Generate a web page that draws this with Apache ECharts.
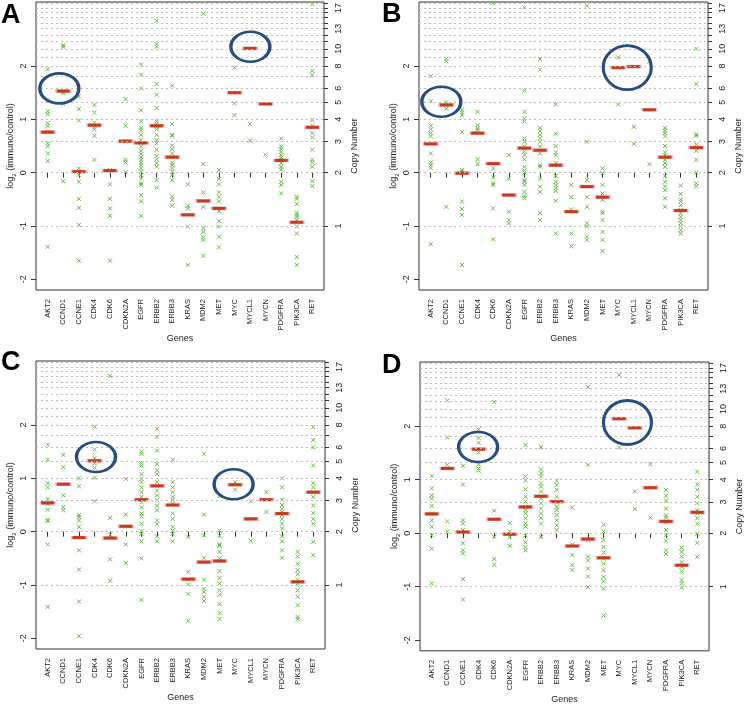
<!DOCTYPE html>
<html><head><meta charset="utf-8">
<script src="https://cdn.jsdelivr.net/npm/echarts@6/dist/echarts.min.js"></script>
<style>html,body{margin:0;padding:0;background:#fff}#c{width:747px;height:705px}</style>
</head><body><div id="c"></div>
<script>
const genes = ["AKT2","CCND1","CCNE1","CDK4","CDK6","CDKN2A","EGFR","ERBB2","ERBB3","KRAS","MDM2","MET","MYC","MYCL1","MYCN","PDGFRA","PIK3CA","RET"];
const panelLetters = ["A","B","C","D"];
const log2Ticks = [-2,-1,0,1,2];
const cnLines = [1,2,3,4,5,6,7,8,9,10,11,12,13,14,15,16,17,18];
const cnLabels = [1,2,3,4,5,6,8,10,13,17];

const ptsA = [
 [1.94,1.36,1.15,1.10,0.93,0.88,0.77,0.55,0.50,0.36,0.22,-1.39],
 [2.39,2.36,1.52,1.49,1.29,-0.16],
 [1.43,1.19,0.98,0.08,-0.04,-0.17,-0.49,-0.66,-0.98,-1.65],
 [1.27,1.13,0.94,0.85,0.81,0.69,0.24],
 [0.05,-0.22,-0.49,-0.67,-0.81,-1.65],
 [1.38,0.88,0.59,0.24,0.19,0.01],
 [2.03,1.84,1.58,1.17,0.96,0.84,0.79,0.71,0.61,0.56,0.49,0.41,0.35,0.29,0.24,0.19,0.14,0.08,0.02,-0.04,-0.11,-0.2,-0.23,-0.42,-0.54,-0.81],
 [2.85,2.41,2.36,1.66,1.46,1.21,0.96,0.91,0.86,0.81,0.71,0.61,0.55,0.43,0.31,0.25,0.18,0.11,-0.14,-0.28],
 [1.63,0.91,0.71,0.69,0.51,0.44,0.36,0.29,0.19,0.14,0.08,0.02,-0.04,-0.14,-0.45,-0.51,-0.62],
 [-0.22,-0.62,-0.67,-1.01,-1.73],
 [2.98,0.16,-0.37,-0.64,-1.04,-1.11,-1.21,-1.26,-1.56],
 [0.05,-0.12,-0.22,-0.37,-0.45,-0.54,-0.72,-0.91,-1.01,-1.2,-1.4],
 [1.97,1.3,1.08],
 [0.91,0.6],
 [2.18,0.34],
 [0.64,0.49,0.44,0.39,0.33,0.28,0.24,0.18,0.11,0.06,-0.17,-0.23,-0.39],
 [-0.45,-0.49,-0.59,-0.75,-0.79,-0.83,-0.89,-1.01,-1.14,-1.58,-1.73],
 [3.16,1.91,1.83,0.99,0.88,0.74,0.66,0.43,0.24,0.19,0.11,-0.16,-0.25]
];
const medA = [0.76,1.53,0.02,0.89,0.04,0.59,0.56,0.88,0.29,-0.79,-0.53,-0.67,1.5,2.33,1.29,0.23,-0.93,0.85];
const ringsA = [[1.75,1.58,1],[14.02,2.36,1]];

const ptsB = [
 [1.81,1.34,0.88,0.81,0.74,0.68,0.36,0.19,0.14,0.09,-1.34],
 [2.14,2.09,1.32,1.2,-0.64],
 [1.18,1.13,1.08,0.76,0.05,0.02,-0.54,-0.68,-0.79,-1.73],
 [1.14,0.89,0.83,0.8,0.25,0.16],
 [3.18,0.08,-0.09,-0.2,-0.23,-0.67,-1.25],
 [0.33,-0.11,-0.73,-0.89,-0.95],
 [3.1,1.54,1.14,1.02,0.96,0.64,0.58,0.49,0.39,0.33,0.25,0.11,0.04,0.0,-0.14,-0.17,-0.23,-0.36,-0.44,-0.48],
 [2.13,1.93,0.84,0.78,0.71,0.64,0.58,0.49,0.36,0.14,0.11,-0.11,-0.26,-0.36,-0.76,-0.89],
 [1.28,0.73,0.5,0.38,0.33,0.18,-0.06,-0.17,-0.23,-0.29,-0.34,-0.53,-1.14],
 [-0.23,-0.46,-0.69,-1.14,-1.38],
 [3.13,0.58,-0.14,-0.46,-0.64,-0.95,-1.01,-1.2,-1.26],
 [0.08,-0.01,-0.23,-0.39,-0.51,-0.73,-0.76,-0.89,-1.11,-1.26,-1.47],
 [2.16,1.28],
 [0.86,0.54],
 [2.08,0.16],
 [0.84,0.79,0.74,0.68,0.5,0.38,0.33,0.24,0.18,0.11,-0.06,-0.17,-0.26,-0.33,-0.48,-0.64],
 [-0.24,-0.4,-0.5,-0.54,-0.61,-0.7,-0.76,-0.83,-0.89,-0.95,-1.01,-1.08,-1.14],
 [2.32,1.66,0.72,0.69,0.53,0.41,0.24,0.0,-0.2,-0.26]
];
const medB = [0.54,1.27,-0.01,0.74,0.17,-0.42,0.46,0.42,0.14,-0.73,-0.26,-0.46,1.97,1.99,1.18,0.29,-0.71,0.47];
const ringsB = [[1.68,1.33,1],[13.58,1.97,2]];

const ptsC = [
 [1.63,1.35,0.91,0.83,0.61,0.52,0.41,0.22,0.2,-0.24,-1.41],
 [1.44,1.21,0.68,0.46,0.4],
 [1.0,0.85,0.31,0.27,0.21,0.09,-0.35,-0.71,-1.31,-1.96],
 [1.97,1.54,1.38,1.28,1.2,1.01,0.57],
 [2.92,0.26,-0.06,-0.52,-0.92],
 [0.99,0.32,-0.24,-0.59],
 [1.5,1.46,1.28,1.24,1.08,0.99,0.93,0.83,0.74,0.65,0.55,0.46,0.34,0.29,0.15,0.01,-0.04,-0.18,-0.5,-1.28],
 [1.93,1.78,1.52,1.27,1.15,1.08,0.93,0.77,0.68,0.59,0.49,0.4,0.21,0.14,-0.09,-0.18],
 [1.35,0.93,0.83,0.74,0.65,0.59,0.52,0.34,0.24,0.09,0.02,-0.04,-0.18],
 [-0.1,-0.75,-0.99,-1.17,-1.67],
 [1.46,0.32,-0.07,-0.49,-0.9,-1.07,-1.13,-1.22,-1.3],
 [0.67,0.02,-0.08,-0.24,-0.26,-0.38,-0.5,-0.55,-0.74,-0.87,-0.97,-1.1,-1.18,-1.36,-1.53,-1.64],
 [0.93,0.79],
 [0.57,-0.17],
 [0.74,0.37],
 [1.0,0.83,0.6,0.5,0.43,0.37,0.31,0.24,0.15,0.06,-0.09,-0.18,-0.35,-0.49],
 [-0.38,-0.47,-0.6,-0.72,-0.8,-0.9,-0.97,-1.1,-1.22,-1.38,-1.6,-1.64],
 [1.96,1.72,1.58,1.24,0.91,0.83,0.74,0.65,0.49,0.35,0.24,0.15,-0.19,-0.44]
];
const medC = [0.54,0.89,-0.11,1.33,-0.12,0.1,0.6,0.86,0.5,-0.89,-0.57,-0.55,0.88,0.24,0.6,0.34,-0.94,0.74];
const ringsC = [[4.09,1.4,1],[12.9,0.89,1]];

const ptsD = [
 [1.07,0.84,0.71,0.65,0.51,0.37,0.24,0.12,-0.04,-0.29,-0.94],
 [2.48,1.79,1.28,0.22,0.03],
 [1.26,0.91,0.24,0.18,0.06,-0.19,-0.32,-0.38,-0.86,-1.24],
 [1.94,1.78,1.69,1.51,1.28,1.21,1.17],
 [2.45,0.42,-0.07,-0.48,-0.59],
 [0.19,0.03,-0.08,-0.24],
 [1.65,1.06,0.99,0.82,0.68,0.59,0.49,0.43,0.37,0.28,0.18,0.12,-0.04,-0.17,-0.26,-0.32],
 [1.61,1.19,1.12,1.06,0.93,0.87,0.78,0.65,0.56,0.46,0.37,0.28,0.18,-0.07],
 [0.98,0.9,0.81,0.68,0.57,0.49,0.43,0.34,0.24,0.15,0.06],
 [0.48,-0.21,-0.41,-0.6,-0.69],
 [2.73,1.28,-0.13,-0.44,-0.51,-0.66,-0.81,-1.01],
 [0.16,0.03,-0.13,-0.26,-0.36,-0.48,-0.57,-0.69,-0.82,-0.9,-1.04,-1.54],
 [2.96,1.6],
 [0.78,0.45],
 [1.29,0.29],
 [0.81,0.7,0.61,0.46,0.33,0.29,0.2,0.06,-0.04,-0.14,-0.32,-0.39],
 [-0.27,-0.35,-0.44,-0.54,-0.63,-0.72,-0.88,-0.94,-1.02],
 [1.15,0.91,0.81,0.68,0.56,0.43,0.37,0.28,0.18,-0.01,-0.18,-0.44]
];
const medD = [0.36,1.21,0.02,1.57,0.26,-0.02,0.49,0.69,0.59,-0.24,-0.11,-0.46,2.14,1.97,0.85,0.22,-0.6,0.39];
const ringsD = [[3.97,1.61,1],[13.53,2.07,2]];

// ---- layout / style (not data) ----
const boxes = [
  {left:36, top:2, width:288, height:288},
  {left:419, top:2, width:289, height:288},
  {left:36, top:361, width:289, height:288},
  {left:420, top:362, width:289, height:289}
];
const letterPos = [{left:1,top:2},{left:382,top:1},{left:1,top:349},{left:382,top:352}];
const panels = [
  {pts:ptsA, med:medA, rings:ringsA},
  {pts:ptsB, med:medB, rings:ringsB},
  {pts:ptsC, med:medC, rings:ringsC},
  {pts:ptsD, med:medD, rings:ringsD}
];
const FONT = "Liberation Sans, Arial, Helvetica, sans-serif";
const YMIN = -2.2, YMAX = 3.2, XMIN = 0.25, XMAX = 18.75;
const toLog = n => Math.log2(n/2);
const GREEN = '#62bb45', RED = '#c9381f', BLUE = '#264c80';
const crossPath = 'path://M0,0L10,10M10,0L0,10';

const option = {
  animation:false,
  backgroundColor:'#fff',
  title: panelLetters.map((t,i)=>({text:t, left:letterPos[i].left, top:letterPos[i].top, padding:0,
    textStyle:{fontSize:27, fontWeight:'bold', color:'#000', fontFamily:FONT}})),
  grid: boxes.map(b=>({left:b.left, top:b.top, width:b.width, height:b.height, show:true,
    borderColor:'#333', borderWidth:1, backgroundColor:'transparent', containLabel:false})),
  xAxis: [], yAxis: [], series: []
};

const posList = genes.map((g,i)=>i+1);

panels.forEach((p,pi)=>{
  option.xAxis.push({
    gridIndex:pi, type:'value', min:XMIN, max:XMAX,
    name:'Genes', nameLocation:'middle', nameGap:44,
    nameTextStyle:{fontSize:9, fontFamily:FONT, color:'#222'},
    axisLine:{show:false},
    axisTick:{show:true, inside:false, length:5, customValues:posList, lineStyle:{color:'#333'}},
    axisLabel:{show:true, customValues:posList, rotate:90, margin:9, fontSize:7.5, fontFamily:FONT, color:'#222',
      formatter:v=>genes[Math.round(v)-1]},
    splitLine:{show:false}
  });
  option.yAxis.push({
    gridIndex:pi, type:'value', position:'left', min:YMIN, max:YMAX,
    name:'{a|log}{s|2}{a| (immuno/control)}', nameLocation:'middle', nameGap:19,
    nameTextStyle:{fontFamily:FONT, color:'#222', rich:{a:{fontSize:9, fontFamily:FONT, color:'#222', lineHeight:12},
      s:{fontSize:6, fontFamily:FONT, color:'#222', verticalAlign:'bottom', lineHeight:12, padding:[4,0,0,0]}}},
    axisLine:{show:false},
    axisTick:{show:true, length:5, customValues:log2Ticks, lineStyle:{color:'#333'}},
    axisLabel:{show:true, customValues:log2Ticks, rotate:90, margin:8, fontSize:9, fontFamily:FONT, color:'#222',
      formatter:v=>String(Math.round(v))},
    splitLine:{show:false}
  });
  option.yAxis.push({
    gridIndex:pi, type:'value', position:'right', min:YMIN, max:YMAX,
    name:'Copy Number', nameLocation:'middle', nameGap:26,
    nameTextStyle:{fontSize:9, fontFamily:FONT, color:'#222'},
    axisLine:{show:false},
    axisTick:{show:true, length:4, customValues:cnLines.map(toLog), lineStyle:{color:'#333'}},
    axisLabel:{show:true, customValues:cnLabels.map(toLog), rotate:90, margin:10, fontSize:9, fontFamily:FONT, color:'#222',
      formatter:v=>String(Math.round(2*Math.pow(2,v)))},
    splitLine:{show:false}
  });
  const yl = pi*2;
  option.series.push({
    type:'line', xAxisIndex:pi, yAxisIndex:yl, data:[], z:1, silent:true,
    markLine:{silent:true, symbol:['none','none'], animation:false, label:{show:false},
      lineStyle:{type:[2,3], color:'#bdbdbd', width:1},
      emphasis:{disabled:true},
      data: cnLines.map(n=>({yAxis:toLog(n)}))}
  });
  const pts = [];
  p.pts.forEach((arr,gi)=>arr.forEach(v=>pts.push([gi+1, v])));
  option.series.push({
    type:'scatter', xAxisIndex:pi, yAxisIndex:yl, data:pts, z:3, silent:true,
    symbol:crossPath, symbolSize:4,
    itemStyle:{color:'rgba(0,0,0,0)', borderColor:GREEN, borderWidth:1, opacity:1}
  });
  option.series.push({
    type:'scatter', xAxisIndex:pi, yAxisIndex:yl, data:p.med.map((v,gi)=>[gi+1, v]), z:4, silent:true,
    symbol:'rect', symbolSize:[13,3],
    itemStyle:{color:RED, borderColor:'rgba(210,70,50,0.35)', borderWidth:1.5, opacity:1}
  });
  option.series.push({
    type:'scatter', xAxisIndex:pi, yAxisIndex:yl, z:5, silent:true,
    data:p.rings.map(r=>({value:[r[0], r[1]], symbolSize: r[2]>1 ? [48,44] : [39,30]})),
    symbol:'circle',
    itemStyle:{color:'rgba(0,0,0,0)', borderColor:BLUE, borderWidth:3, opacity:1}
  });
});

const chart = echarts.init(document.getElementById('c'), null, {renderer:'canvas'});
chart.setOption(option);
</script>
</body></html>
